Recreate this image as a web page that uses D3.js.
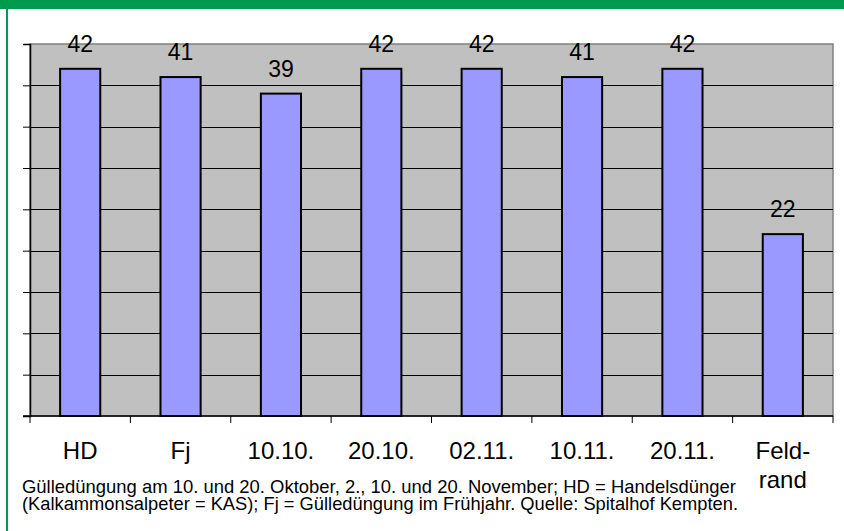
<!DOCTYPE html>
<html>
<head>
<meta charset="utf-8">
<script src="https://cdn.jsdelivr.net/npm/d3@7"></script>
<style>
  body { margin: 0; background: #fff; }
  svg { display: block; }
</style>
</head>
<body>
<svg id="chart" width="844" height="531"></svg>
<script>
const categories = ["HD", "Fj", "10.10.", "20.10.", "02.11.", "10.11.", "20.11.", "Feld-\nrand"];
const values = [42, 41, 39, 42, 42, 41, 42, 22];
const yTicks = [0, 5, 10, 15, 20, 25, 30, 35, 40, 45];
const caption = [
    "Gülledüngung am 10. und 20. Oktober, 2., 10. und 20. November; HD = Handelsdünger",
    "(Kalkammonsalpeter = KAS); Fj = Gülledüngung im Frühjahr. Quelle: Spitalhof Kempten."
];

let svg = d3.select('#chart'),
    width = +svg.attr("width"),
    height = +svg.attr("height"),
    green = "#009a4e";

let plot = { left: 30, right: 833, top: 44, bottom: 416 };

// frame
svg.append("rect").attr("x", 0).attr("y", 0).attr("width", width).attr("height", 9).attr("fill", green);
svg.append("rect").attr("x", 6).attr("y", 0).attr("width", 2).attr("height", height).attr("fill", green);

let x = d3.scaleBand()
    .domain(categories)
    .range([plot.left, plot.right])
    .paddingInner(0.6)
    .paddingOuter(0.3);

let y = d3.scaleLinear()
    .domain([0, 45])
    .range([plot.bottom, plot.top]);

svg.append("rect")
    .attr("x", plot.left).attr("y", plot.top)
    .attr("width", plot.right - plot.left).attr("height", plot.bottom - plot.top)
    .attr("fill", "#c0c0c0").attr("stroke", "#808080").attr("stroke-width", 1.5);

// grid
svg.append("g").selectAll("line").data(yTicks.slice(1, -1)).enter().append("line")
    .attr("x1", plot.left).attr("x2", plot.right)
    .attr("y1", d => Math.round(y(d)) + 0.5).attr("y2", d => Math.round(y(d)) + 0.5)
    .attr("stroke", "#000").attr("stroke-width", 1);

// y axis, ticks only
let yAxis = svg.append("g")
    .attr("transform", "translate(" + plot.left + ",0)")
    .call(d3.axisLeft(y).tickValues(yTicks).tickSize(7).tickFormat(""));
yAxis.select(".domain").attr("stroke", "#000").attr("stroke-width", 1.5);

// x axis, ticks at category boundaries
let boundaries = d3.range(categories.length + 1).map(i => plot.left + i * (plot.right - plot.left) / categories.length);
svg.append("line")
    .attr("x1", plot.left - 7).attr("x2", plot.right)
    .attr("y1", plot.bottom).attr("y2", plot.bottom)
    .attr("stroke", "#000").attr("stroke-width", 1.5);
svg.append("g").selectAll("line").data(boundaries).enter().append("line")
    .attr("x1", d => d).attr("x2", d => d)
    .attr("y1", plot.bottom).attr("y2", plot.bottom + 7)
    .attr("stroke", "#000").attr("stroke-width", 1);

// bars
svg.append("g").selectAll("rect").data(values).enter().append("rect")
    .attr("x", (d, i) => x(categories[i]))
    .attr("y", d => y(d))
    .attr("width", x.bandwidth())
    .attr("height", d => y(0) - y(d))
    .attr("fill", "#9999ff")
    .attr("stroke", "#000")
    .attr("stroke-width", 2);

// value labels
svg.append("g").selectAll("text").data(values).enter().append("text")
    .attr("x", (d, i) => x(categories[i]) + x.bandwidth() / 2)
    .attr("y", d => y(d) - 17)
    .attr("text-anchor", "middle")
    .attr("font-family", "Liberation Sans, Arial, sans-serif")
    .attr("font-size", 23)
    .text(d => d);

// category labels
let catLabels = svg.append("g").selectAll("text").data(categories).enter().append("text")
    .attr("x", d => x(d) + x.bandwidth() / 2)
    .attr("y", 459)
    .attr("text-anchor", "middle")
    .attr("font-family", "Liberation Sans, Arial, sans-serif")
    .attr("font-size", 24);
catLabels.selectAll("tspan").data(d => d.split("\n")).enter().append("tspan")
    .attr("x", function() { return d3.select(this.parentNode).attr("x"); })
    .attr("dy", (d, i) => i ? 29 : 0)
    .text(d => d);

// caption: one text block, condensed face in the original, squeezed here
let cap = svg.append("text")
    .attr("x", 22)
    .attr("y", 493)
    .attr("font-family", "Liberation Sans, Arial, sans-serif")
    .attr("font-size", 19);
cap.selectAll("tspan").data(caption).enter().append("tspan")
    .attr("x", 22)
    .attr("dy", (d, i) => i ? 17 : 0)
    .attr("textLength", (d, i) => i ? 716 : 714)
    .attr("lengthAdjust", "spacingAndGlyphs")
    .text(d => d);
</script>
</body>
</html>
